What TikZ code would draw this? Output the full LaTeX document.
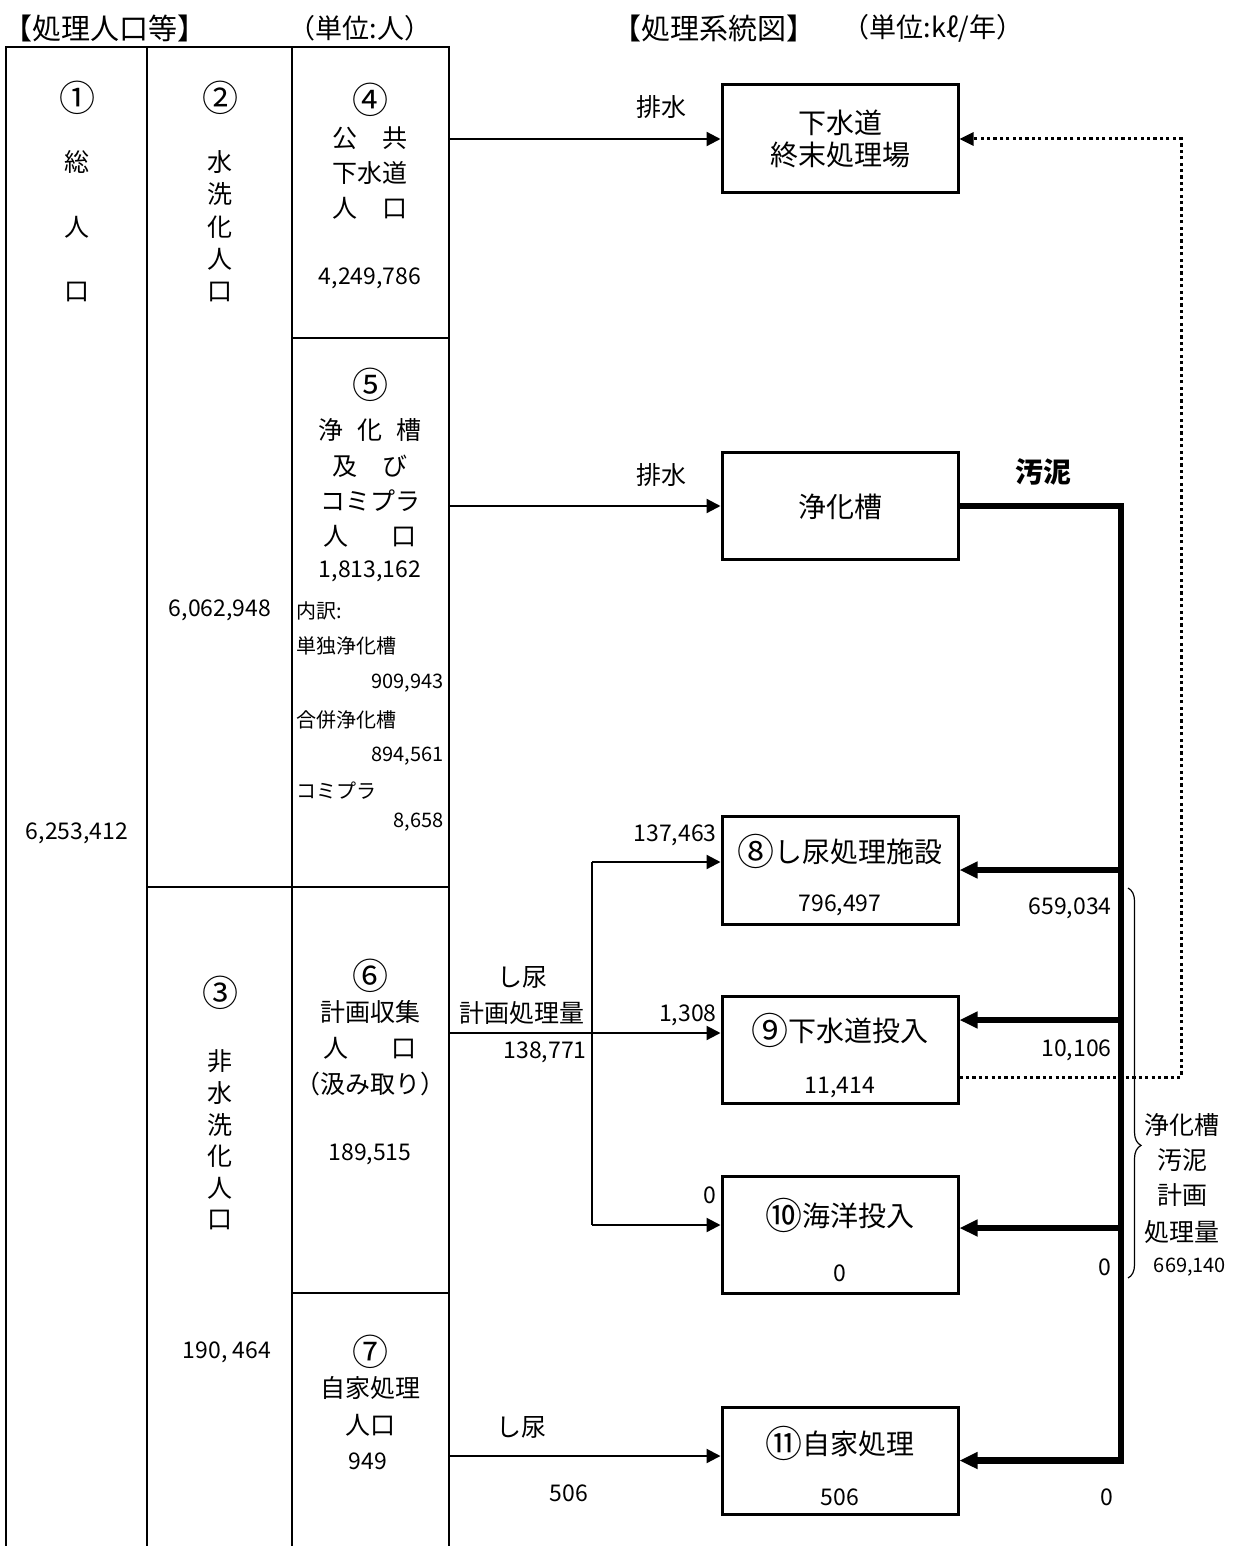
\documentclass[tikz,border=0pt]{standalone}
\usepackage{fontspec}
\setmainfont{Noto Sans CJK JP}
\usetikzlibrary{arrows.meta,decorations.pathreplacing}
\newcommand{\circnum}[2][18]{\raisebox{-0.1em}{\fontsize{#1}{#1}\selectfont #2}}
\begin{document}
\begin{tikzpicture}[x=0.5pt,y=-0.5pt,
  txt/.style={inner sep=0pt, font=\fontsize{12.5}{15}\selectfont},
  num/.style={inner sep=0pt, font=\fontsize{11.5}{14}\selectfont},
  sml/.style={inner sep=0pt, font=\fontsize{10}{12}\selectfont},
  big/.style={inner sep=0pt, font=\fontsize{14}{16}\selectfont},
  head/.style={inner sep=0pt, font=\fontsize{14.5}{17}\selectfont},
  unit/.style={inner sep=0pt, font=\fontsize{13.5}{16}\selectfont},
  tbl/.style={line width=1.4pt},
  boxs/.style={draw, line width=1.5pt, minimum width=118pt, inner sep=0pt},
  thinline/.style={line width=1.1pt},
  thinarr/.style={line width=1.1pt, -{Triangle[length=7pt,width=7pt]}},
  sludge/.style={line width=3.2pt, line join=miter, -{Triangle[length=9pt,width=8pt]}},
  dotarr/.style={line width=1.5pt, dash pattern=on 1.6pt off 1.6pt, -{Triangle[length=7pt,width=6.5pt]}}
]
\useasboundingbox (0,0) rectangle (1232,1546);

% headings
\node[head] (h1) at (105,28) {【処理人口等】};
\node[unit] (h2) at (360,28) {（単位:人）};
\node[head] (h3) at (714,28) {【処理系統図】};
\node[unit] (h4) at (933,28) {（単位:kℓ/年）};

% table lines
\coordinate (tl) at (6,47);
\coordinate (tr) at (449,47);
\coordinate (bl) at (6,1546);
\coordinate (br) at (449,1546);
\draw[tbl] (bl) -- (tl) -- (tr) -- (br);
\coordinate (c2t) at (147,47);
\coordinate (c2b) at (147,1546);
\draw[tbl] (c2t) -- (c2b);
\coordinate (c3t) at (292,47);
\coordinate (c3b) at (292,1546);
\draw[tbl] (c3t) -- (c3b);
\coordinate (r4a) at (292,338);
\coordinate (r4b) at (449,338);
\draw[tbl] (r4a) -- (r4b);
\coordinate (r5a) at (147,887);
\coordinate (r5b) at (449,887);
\draw[tbl] (r5a) -- (r5b);
\coordinate (r6a) at (292,1293);
\coordinate (r6b) at (449,1293);
\draw[tbl] (r6a) -- (r6b);

% column 1
\node[txt] (n1) at (77,98) {\circnum{①}};
\node[txt] (n1a) at (77,162) {総};
\node[txt] (n1b) at (77,227) {人};
\node[txt] (n1c) at (77,292) {口};
\node[num] (v1) at (77,833) {6,253,412};

% column 2
\node[txt] (n2) at (220,98) {\circnum{②}};
\foreach \c [count=\i] in {水,洗,化,人,口}
  \node[txt] (w\i) at (220,{162+(\i-1)*32.5}) {\c};
\node[num] (v2) at (220,610) {6,062,948};
\node[txt] (n3) at (220,993) {\circnum{③}};
\foreach \c [count=\i] in {非,水,洗,化,人,口}
  \node[txt] (nw\i) at (220,{1061+(\i-1)*31.8}) {\c};
\node[num] (v3) at (227,1352) {190, 464};

% column 3 : 4
\node[txt] (n4) at (370,100) {\circnum{④}};
\node[txt] (n4a) at (370,138) {公\hspace{1em}共};
\node[txt] (n4b) at (370,173) {下水道};
\node[txt] (n4c) at (370,208) {人\hspace{1em}口};
\node[num] (v4) at (370,278) {4,249,786};

% column 3 : 5
\node[txt] (n5) at (370,385) {\circnum{⑤}};
\node[txt] (n5a) at (370,430) {浄\hspace{0.55em}化\hspace{0.55em}槽};
\node[txt] (n5b) at (370,466) {及\hspace{1em}び};
\node[txt] (n5c) at (370,501) {コミプラ};
\node[txt] (n5d) at (370,536) {人\hspace{1.7em}口};
\node[num] (v5) at (370,571) {1,813,162};
\node[sml, anchor=west] (k0) at (296,611) {内訳:};
\node[sml, anchor=west] (k1) at (296,646) {単独浄化槽};
\node[sml, anchor=east] (k1v) at (444,683) {909,943};
\node[sml, anchor=west] (k2) at (296,720) {合併浄化槽};
\node[sml, anchor=east] (k2v) at (444,756) {894,561};
\node[sml, anchor=west] (k3) at (296,791) {コミプラ};
\node[sml, anchor=east] (k3v) at (444,822) {8,658};

% column 3 : 6
\node[txt] (n6) at (370,976) {\circnum{⑥}};
\node[txt] (n6a) at (370,1012) {計画収集};
\node[txt] (n6b) at (370,1048) {人\hspace{1.7em}口};
\node[txt] (n6c) at (370,1084) {（汲み取り）};
\node[num] (v6) at (370,1154) {189,515};

% column 3 : 7
\node[txt] (n7) at (370,1352) {\circnum{⑦}};
\node[txt] (n7a) at (370,1388) {自家処理};
\node[txt] (n7b) at (370,1425) {人口};
\node[num] (v7) at (368,1461) {949};

% boxes
\node[boxs, minimum height=54pt] (b1) at (840,139) {};
\node[big] (b1a) at (840,123) {下水道};
\node[big] (b1b) at (840,155) {終末処理場};
\node[boxs, minimum height=53.5pt] (b2) at (840,506) {};
\node[big] (b2a) at (840,507) {浄化槽};
\node[boxs, minimum height=54pt] (b8) at (840,870) {};
\node[big] (b8a) at (840,851) {\circnum[18.5]{⑧}し尿処理施設};
\node[num] (b8v) at (840,905) {796,497};
\node[boxs, minimum height=53.5pt] (b9) at (840,1049.5) {};
\node[big] (b9a) at (840,1030) {\circnum[18.5]{⑨}下水道投入};
\node[num] (b9v) at (840,1087) {11,414};
\node[boxs, minimum height=58.5pt] (b10) at (840,1234.5) {};
\node[big] (b10a) at (840,1215) {\circnum[18.5]{⑩}海洋投入};
\node[num] (b10v) at (840,1273) {0};
\node[boxs, minimum height=53.5pt] (b11) at (840,1460.5) {};
\node[big] (b11a) at (840,1443) {\circnum[18.5]{⑪}自家処理};
\node[num] (b11v) at (840,1497) {506};

% thin arrows from table
\coordinate (c4) at (449,139);
\draw[thinarr] (c4) -- (b1.west);
\node[txt] (l1) at (661,107) {排水};
\coordinate (c5) at (449,506);
\draw[thinarr] (c5) -- (b2.west);
\node[txt] (l2) at (661,475) {排水};
\coordinate (c6) at (449,1033);
\draw[thinarr] (c6) -- (c6 -| b9.west);
\coordinate (s8) at (592,862);
\coordinate (s10) at (592,1225);
\draw[thinline] (s8) -- (s10);
\draw[thinarr] (s8) -- (s8 -| b8.west);
\draw[thinarr] (s10) -- (s10 -| b10.west);
\coordinate (c7) at (449,1456);
\draw[thinarr] (c7) -- (c7 -| b11.west);

\node[txt] (l3) at (522,977) {し尿};
\node[txt] (l4) at (522,1013) {計画処理量};
\node[num, anchor=east] (l5) at (587,1052) {138,771};
\node[num, anchor=east] (l6) at (717,835) {137,463};
\node[num, anchor=east] (l7) at (717,1015) {1,308};
\node[num, anchor=east] (l8) at (717,1195) {0};
\node[txt] (l9) at (521,1427) {し尿};
\node[num] (l10) at (569,1493) {506};

% sludge
\coordinate (bus2) at (1121,506);
\coordinate (bus11) at (1121,1460.5);
\draw[sludge] (b2.east) -- (bus2) -- (bus11) -- (b11.east);
\coordinate (bus8) at (1121,870);
\draw[sludge] (bus8) -- (b8.east);
\coordinate (bus9) at (1121,1020);
\draw[sludge] (bus9) -- (bus9 -| b9.east);
\coordinate (bus10) at (1121,1228);
\draw[sludge] (bus10) -- (bus10 -| b10.east);
\node[big, font=\fontsize{14}{16}\selectfont\bfseries] (l11) at (1043,472) {汚泥};
\node[num, anchor=east] (l12) at (1112,908) {659,034};
\node[num, anchor=east] (l13) at (1112,1050) {10,106};
\node[num, anchor=east] (l14) at (1112,1267) {0};
\node[num] (l15) at (1107,1497) {0};

% dotted return
\coordinate (dt) at (1181,139);
\coordinate (db) at (1181,1077);
\draw[dotarr] (db -| b9.east) -- (db) -- (dt) -- (b1.east);

% brace
\coordinate (br1) at (1128,888);
\coordinate (br2) at (1128,1278);
\draw[decorate, decoration={brace, amplitude=6.5pt, aspect=0.66}, line width=0.6pt] (br1) -- (br2);
\node[txt] (q1) at (1182,1125) {浄化槽};
\node[txt] (q2) at (1182,1160) {汚泥};
\node[txt] (q3) at (1182,1195) {計画};
\node[txt] (q4) at (1182,1232) {処理量};
\node[sml] (q5) at (1190,1267) {669,140};
\end{tikzpicture}
\end{document}
